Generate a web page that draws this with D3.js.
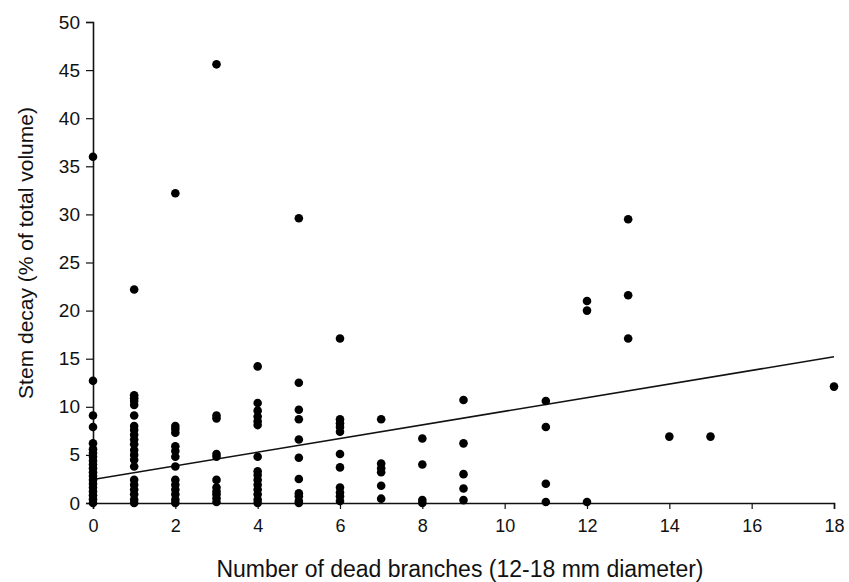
<!DOCTYPE html>
<html>
<head>
<meta charset="utf-8">
<script src="https://cdn.jsdelivr.net/npm/d3@7"></script>
<style>
  body { margin: 0; background: #fff; }
  .chart text { font-family: "Liberation Sans", Arial, sans-serif; fill: #111; }
</style>
</head>
<body>
<div class="chart"></div>
<script>

// number of dead branches per tree and the stem decay read for each one
let branches0 = [0, 0, 0, 0, 0, 0, 0, 0, 0, 0, 0, 0, 0, 0, 0, 0, 0, 0, 0, 0];
let decay0 = [36, 12.7, 9.1, 7.9, 6.2, 5.6, 5.2, 4.8, 4.4, 4.0, 3.6, 3.2, 2.8, 2.4, 2.0, 1.6, 1.2, 0.8, 0.4, 0];

let branches1 = [1, 1, 1, 1, 1, 1, 1, 1, 1, 1, 1, 1, 1, 1, 1, 1, 1, 1, 1, 1, 1];
let decay1 = [22.2, 11.2, 10.9, 10.6, 10.2, 9.1, 8.0, 7.6, 7.1, 6.6, 6.1, 5.5, 5.0, 4.5, 3.8, 2.4, 1.9, 1.4, 0.9, 0.35, 0];

let branches2 = [2, 2, 2, 2, 2, 2, 2, 2, 2, 2, 2, 2, 2, 2];
let decay2 = [32.2, 8.0, 7.7, 7.3, 5.9, 5.4, 4.8, 3.8, 2.4, 1.9, 1.4, 0.9, 0.35, 0];

let branches3 = [3, 3, 3, 3, 3, 3, 3, 3, 3, 3, 3];
let decay3 = [45.6, 9.1, 8.8, 5.1, 4.8, 2.4, 1.6, 1.2, 0.9, 0.5, 0.1];

let branches4 = [4, 4, 4, 4, 4, 4, 4, 4, 4, 4, 4, 4, 4, 4, 4];
let decay4 = [14.2, 10.4, 9.6, 9.0, 8.5, 8.1, 4.8, 3.3, 2.9, 2.4, 1.9, 1.4, 0.9, 0.35, 0];

let branches5 = [5, 5, 5, 5, 5, 5, 5, 5, 5, 5, 5];
let decay5 = [29.6, 12.5, 9.7, 8.7, 6.6, 4.7, 2.5, 1.0, 0.7, 0.2, 0];

let branches6 = [6, 6, 6, 6, 6, 6, 6, 6, 6, 6, 6];
let decay6 = [17.1, 8.7, 8.3, 7.9, 7.4, 5.1, 3.7, 1.6, 1.1, 0.7, 0.2];

let branchesHigh = [7, 7, 7, 7, 7, 7, 8, 8, 8, 8, 9, 9, 9, 9, 9, 11, 11, 11, 11,
                    12, 12, 12, 13, 13, 13, 14, 15, 18];
let decayHigh = [8.7, 4.1, 3.6, 3.2, 1.8, 0.45, 6.7, 4.0, 0.3, 0, 10.7, 6.2, 3.0, 1.5, 0.3, 10.6, 7.9, 2.0, 0.1,
                 21.0, 20.0, 0.1, 29.5, 21.6, 17.1, 6.9, 6.9, 12.1];

// fitted line, read at both ends of the x range
let trendX = [0, 18];
let trendY = [2.45, 15.2];

let xTicks = [0, 2, 4, 6, 8, 10, 12, 14, 16, 18];
let yTicks = [0, 5, 10, 15, 20, 25, 30, 35, 40, 45, 50];


let xs = [].concat(branches0, branches1, branches2, branches3, branches4, branches5, branches6, branchesHigh);
let ys = [].concat(decay0, decay1, decay2, decay3, decay4, decay5, decay6, decayHigh);
let data = xs.map(function (d, i) { return { x: d, y: ys[i] }; });

let width = 849,
    height = 582;
let margin = { left: 93, right: 15, top: 22, bottom: 79 };

let x = d3.scaleLinear()
          .domain([0, 18])
          .range([margin.left, width - margin.right]);
let y = d3.scaleLinear()
          .domain([0, 50])
          .range([height - margin.bottom, margin.top]);

let svg = d3.select(".chart").append("svg")
    .attr("width", width)
    .attr("height", height);

// axes
let yAxis = svg.append("g")
    .attr("transform", "translate(" + margin.left + ",0)")
    .call(d3.axisLeft(y).tickValues(yTicks).tickSize(7).tickPadding(6).tickFormat(d3.format("d")));
let xAxis = svg.append("g")
    .attr("transform", "translate(0," + (height - margin.bottom) + ")")
    .call(d3.axisBottom(x).tickValues(xTicks).tickSize(6).tickPadding(10).tickFormat(d3.format("d")));

[xAxis, yAxis].forEach(function (a) {
    a.select(".domain").attr("stroke", "#111").attr("stroke-width", 1.6);
    a.selectAll(".tick line").attr("stroke", "#111").attr("stroke-width", 1.2);
    a.selectAll(".tick text").attr("fill", "#111");
});
yAxis.selectAll(".tick text").style("font-size", "19px");
xAxis.selectAll(".tick text").style("font-size", "18px");

// trend line
let trend = trendX.map(function (d, i) { return [d, trendY[i]]; });
svg.append("path")
    .datum(trend)
    .attr("fill", "none")
    .attr("stroke", "#111")
    .attr("stroke-width", 1.6)
    .attr("d", d3.line()
        .x(function (d) { return x(d[0]); })
        .y(function (d) { return y(d[1]); }));

// points
svg.selectAll(".dot")
    .data(data)
    .enter().append("circle")
    .attr("class", "dot")
    .attr("cx", function (d) { return x(d.x); })
    .attr("cy", function (d) { return y(d.y); })
    .attr("r", 4.3)
    .attr("fill", "#000");

// axis titles
svg.append("text")
    .attr("x", 460)
    .attr("y", 577)
    .attr("text-anchor", "middle")
    .style("font-size", "23px")
    .text("Number of dead branches (12-18 mm diameter)");

svg.append("text")
    .attr("transform", "translate(33," + 253 + ") rotate(-90)")
    .attr("text-anchor", "middle")
    .style("font-size", "21px")
    .text("Stem decay (% of total volume)");

</script>
</body>
</html>
